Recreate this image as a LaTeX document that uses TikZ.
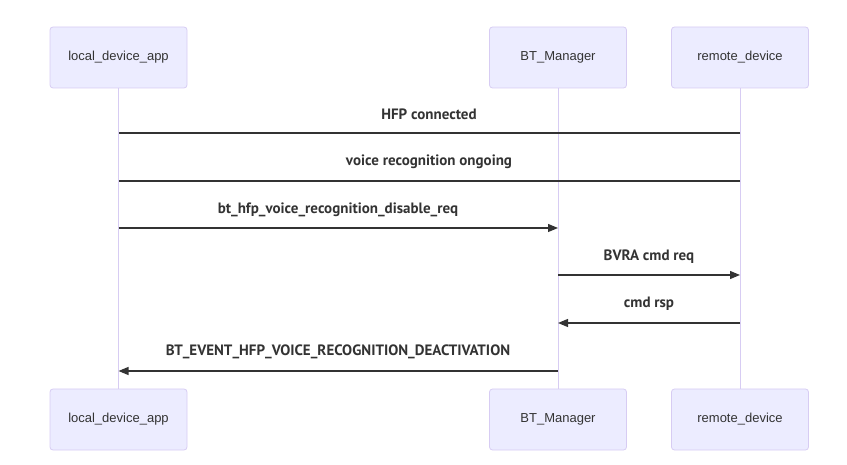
\documentclass[tikz,border=0pt]{standalone}
\usepackage{fontspec}
\setmainfont{Liberation Sans}
\newfontfamily\msgfont{PT Sans}
\usetikzlibrary{arrows.meta}
\definecolor{actfill}{HTML}{ECECFF}
\definecolor{actline}{HTML}{D7CCF3}
\definecolor{ink}{HTML}{333333}
\begin{document}
\begin{tikzpicture}[x=1pt,y=-1pt,
  actor/.style={draw=actline,fill=actfill,rounded corners=3pt,minimum width=137pt,minimum height=61pt,inner sep=0pt,font=\fontsize{13}{15}\selectfont,text=ink,line width=0.8pt},
  life/.style={draw=actline,line width=1pt},
  msg/.style={draw=ink,line width=1.2pt},
  arr/.style={msg,-{Triangle[length=10pt,width=8pt]}},
  lbl/.style={font=\msgfont\bfseries\fontsize{15}{17}\selectfont,text=ink,inner sep=0pt}]
\useasboundingbox (0,0) rectangle (847,465);
\node[actor] (a1) at (118.5,57.5) {local\_device\_app};
\node[actor] (b1) at (558,57.5) {BT\_Manager};
\node[actor] (c1) at (740,57.5) {remote\_device};
\node[actor] (a2) at (118.5,419.5) {local\_device\_app};
\node[actor] (b2) at (558,419.5) {BT\_Manager};
\node[actor] (c2) at (740,419.5) {remote\_device};
\draw[life] (a1) -- (a2);
\draw[life] (b1) -- (b2);
\draw[life] (c1) -- (c2);
\coordinate (m1a) at (118.5,133); \coordinate (m1c) at (740,133);
\coordinate (m2a) at (118.5,181); \coordinate (m2c) at (740,181);
\coordinate (m3a) at (118.5,228); \coordinate (m3b) at (558,228);
\coordinate (m4b) at (558,275); \coordinate (m4c) at (740,275);
\coordinate (m5b) at (558,323); \coordinate (m5c) at (740,323);
\coordinate (m6a) at (118.5,371); \coordinate (m6b) at (558,371);
\draw[msg] (m1c) -- (m1a);
\node[lbl] (t1) at (429,114.5) {HFP connected};
\draw[msg] (m2c) -- (m2a);
\node[lbl] (t2) at (429,161.5) {voice recognition ongoing};
\draw[arr] (m3a) -- (m3b);
\node[lbl] (t3) at (338,209.5) {bt\_hfp\_voice\_recognition\_disable\_req};
\draw[arr] (m4b) -- (m4c);
\node[lbl] (t4) at (649,256.5) {BVRA cmd req};
\draw[arr] (m5c) -- (m5b);
\node[lbl] (t5) at (649,303.5) {cmd rsp};
\draw[arr] (m6b) -- (m6a);
\node[lbl] (t6) at (338,351.5) {BT\_EVENT\_HFP\_VOICE\_RECOGNITION\_DEACTIVATION};
\end{tikzpicture}
\end{document}
